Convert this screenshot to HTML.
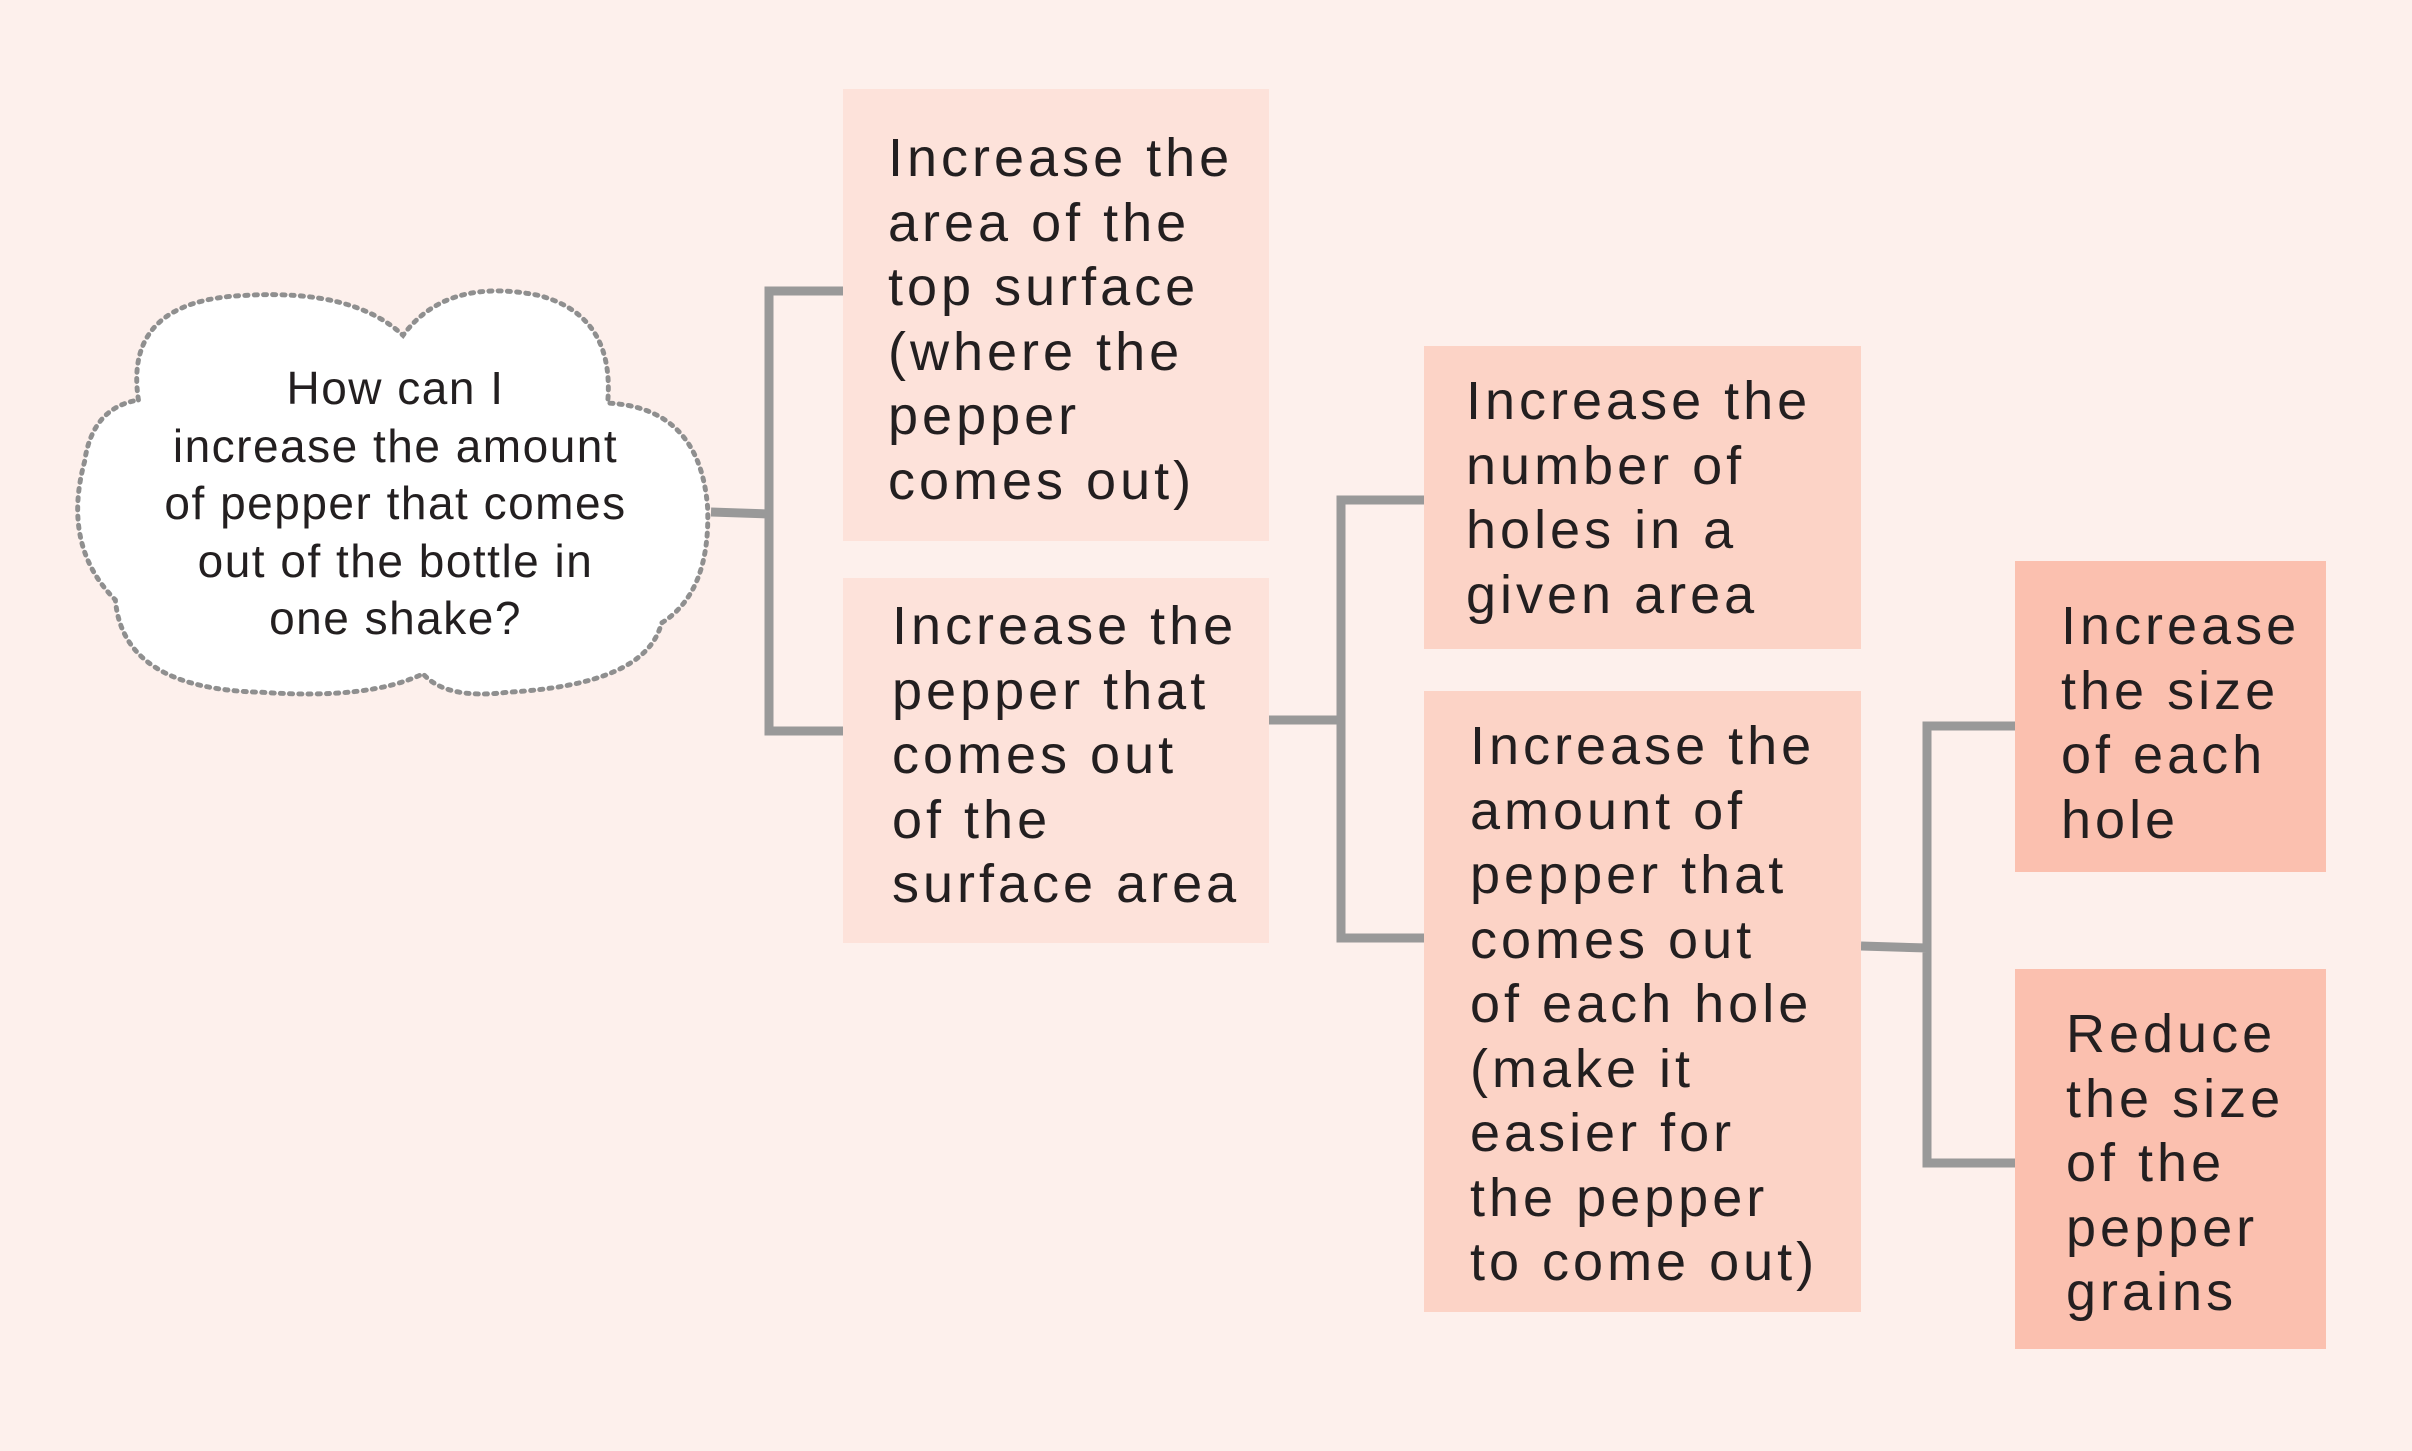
<!DOCTYPE html>
<html><head><meta charset="utf-8"><style>
html,body{margin:0;padding:0}
body{width:2412px;height:1451px;background:#fdf0ec;position:relative;overflow:hidden;font-family:"Liberation Sans",sans-serif;color:#222}
.box{position:absolute}
.t{position:absolute;white-space:pre;font-size:54px;line-height:64.5px;color:#231f20;letter-spacing:4px}
.b1{background:#fde2da}.b2{background:#fcd3c6}.b3{background:#fbc0af}
svg{position:absolute;left:0;top:0}
.ct{position:absolute;left:80px;width:631px;text-align:center;font-size:46px;line-height:57.5px;top:360px;white-space:pre;color:#231f20;letter-spacing:1.5px}
</style></head><body>
<svg width="2412" height="1451">
<g transform="scale(1.5383)">
<path d="M 90,260 Q 80,195 160,192 Q 230,188 262,218 Q 290,180 350,192 Q 400,205 395,262 Q 455,265 460,330 Q 462,385 430,405 Q 420,445 330,450 Q 290,455 275,438 Q 240,455 170,450 Q 80,448 75,390 Q 40,355 55,300 Q 60,265 90,260 Z" fill="#fff" stroke="#8f8f8f" stroke-width="3.2" stroke-dasharray="2 4" stroke-linecap="round"/>
</g>
<g stroke="#999" stroke-width="9" fill="none">
<path d="M711,512 L769,514 M843,291 L769,291 L769,731 L843,731"/>
<path d="M1269,720 L1341,720 M1424,500 L1341,500 L1341,938 L1424,938"/>
<path d="M1861,946 L1927,948 M2015,726 L1927,726 L1927,1163 L2015,1163"/>
</g>
</svg>
<div class="ct">How can I
increase the amount
of pepper that comes
out of the bottle in
one shake?</div>
<div class="box b1" style="left:843px;top:89px;width:426px;height:452px"></div>
<div class="t" style="left:888px;top:126px">Increase the
area of the
top surface
(where the
pepper
comes out)</div>
<div class="box b1" style="left:843px;top:578px;width:426px;height:365px"></div>
<div class="t" style="left:892px;top:594px">Increase the
pepper that
comes out
of the
surface area</div>
<div class="box b2" style="left:1424px;top:346px;width:437px;height:303px"></div>
<div class="t" style="left:1466px;top:369px">Increase the
number of
holes in a
given area</div>
<div class="box b2" style="left:1424px;top:691px;width:437px;height:621px"></div>
<div class="t" style="left:1470px;top:714px">Increase the
amount of
pepper that
comes out
of each hole
(make it
easier for
the pepper
to come out)</div>
<div class="box b3" style="left:2015px;top:561px;width:311px;height:311px"></div>
<div class="t" style="left:2061px;top:594px">Increase
the size
of each
hole</div>
<div class="box b3" style="left:2015px;top:969px;width:311px;height:380px"></div>
<div class="t" style="left:2066px;top:1002px">Reduce
the size
of the
pepper
grains</div>
</body></html>
